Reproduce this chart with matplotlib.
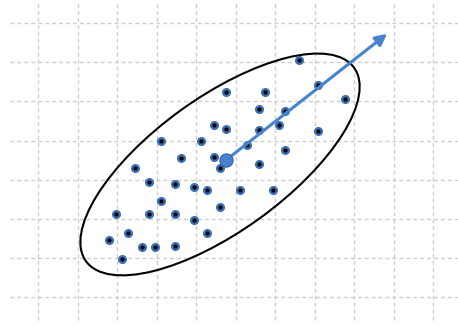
import numpy as np
import matplotlib
matplotlib.use("Agg")
import matplotlib.pyplot as plt
from matplotlib.patches import Ellipse

# sample points (grid units)
xs = [6.59, 4.75, 5.75, 7.08, 7.76, 5.59, 6.25, 4.44, 4.75, 5.58,
      6.10, 7.08, 3.10, 4.11, 5.28, 6.25, 3.61, 4.44, 4.60, 5.59,
      2.46, 2.79, 3.45, 3.93, 4.27, 5.10, 5.93, 3.11, 4.60, 1.97,
      2.79, 3.46, 3.93, 2.28, 4.27, 1.80, 2.63, 2.96, 3.45, 2.11]
ys = [6.06, 5.25, 5.25, 5.41, 5.06, 4.80, 4.76, 4.40, 4.30, 4.26,
      4.39, 4.25, 3.98, 3.98, 3.89, 3.75, 3.56, 3.57, 3.30, 3.40,
      3.30, 2.95, 2.90, 2.81, 2.73, 2.74, 2.74, 2.46, 2.31, 2.13,
      2.13, 2.13, 1.96, 1.64, 1.64, 1.46, 1.29, 1.29, 1.30, 0.97]

mean_pt = (4.75, 3.50)
arrow_tip = (8.83, 6.73)

ell_center = (4.60, 3.39)
ell_width = 8.40
ell_height = 3.41
ell_angle = 36.2

grid_x = np.arange(0, 11)
grid_y = np.arange(0, 8)

fig = plt.figure(figsize=(4.58, 3.26), dpi=100)
ax = fig.add_axes([0, 0, 1, 1])
ax.set_xlim(-0.970, 10.625)
ax.set_ylim(-0.742, 7.596)
ax.axis("off")

grid_style = dict(color="#cdcdcd", lw=1.0, linestyle=(0, (2.8, 2.2)), zorder=1)
ax.vlines(grid_x, -0.59, 7.54, **grid_style)
ax.hlines(grid_y, -0.72, 10.625, **grid_style)

ax.add_patch(Ellipse(ell_center, ell_width, ell_height, angle=ell_angle,
                     fill=False, edgecolor="black", lw=1.5, zorder=2))

ax.plot(xs, ys, "o", ms=4.8, mfc="black", mec="#3a6fb5", mew=1.7, zorder=3)

ax.annotate("", xy=arrow_tip, xytext=mean_pt,
            arrowprops=dict(arrowstyle="-|>", color="#4682d0", lw=2.2,
                            mutation_scale=17, shrinkA=0, shrinkB=0),
            zorder=4)
ax.plot(*mean_pt, "o", ms=9.5, mfc="#4a80d0", mec="#2f62a8", mew=0.8, zorder=5)

fig.savefig("out.png", dpi=100)
